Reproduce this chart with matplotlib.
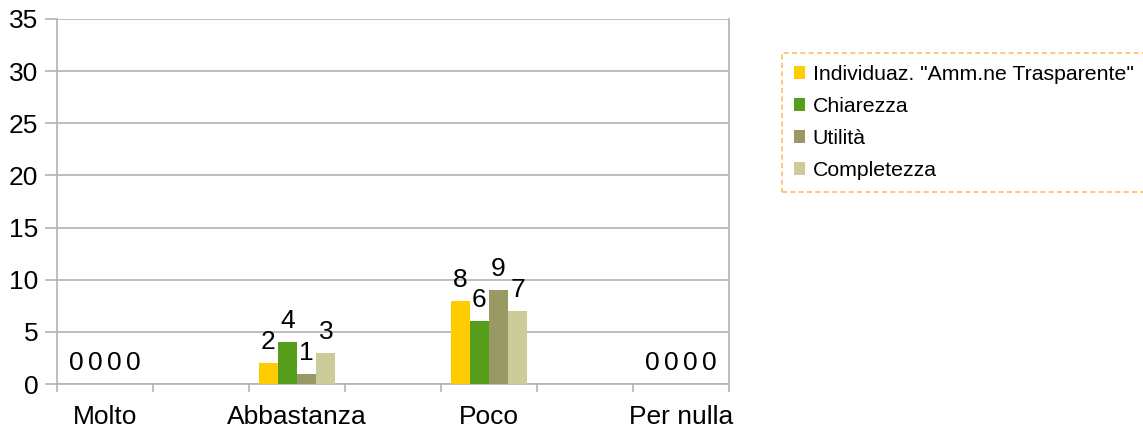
import numpy as np
import matplotlib.pyplot as plt
from matplotlib.patches import Patch

plt.rcParams['font.family'] = ['Liberation Sans', 'DejaVu Sans']

# data
categories = ['Molto', 'Abbastanza', 'Poco', 'Per nulla']
series_names = ['Individuaz. "Amm.ne Trasparente"', 'Chiarezza', 'Utilità', 'Completezza']
individuaz = [0, 2, 8, 0]
chiarezza = [0, 4, 6, 0]
utilita = [0, 1, 9, 0]
completezza = [0, 3, 7, 0]
colors = ['#ffcc00', '#579d1c', '#999966', '#cccc99']

grid_col = '#b3b3b3'

fig = plt.figure(figsize=(11.43, 4.33), dpi=100)
ax = fig.add_axes([57 / 1143, 1 - 384 / 433, (729 - 57) / 1143, (384 - 19) / 433])

# categories sit on every other slot of a 7-slot axis, as in the original
x = np.arange(len(categories)) * 2
width = 0.2
all_series = [individuaz, chiarezza, utilita, completezza]
for i, (vals, col) in enumerate(zip(all_series, colors)):
    pos = x + (i - 1.5) * width
    bars = ax.bar(pos, vals, width, color=col, zorder=3)
    ax.bar_label(bars, padding=6.5, fontsize=19, color='#000000')

ax.set_xlim(-0.5, 6.5)
ax.set_ylim(0, 35)
ax.set_yticks(np.arange(0, 36, 5))
ax.set_xticks(x)
ax.set_xticklabels(categories)
ax.set_xticks(np.arange(-0.5, 7, 1), minor=True)

ax.tick_params(axis='x', which='major', length=0, pad=15, labelsize=19)
ax.tick_params(axis='x', which='minor', length=6, width=1.2, color=grid_col)
ax.tick_params(axis='y', length=8.5, width=1.2, color=grid_col, pad=5, labelsize=19)

ax.grid(axis='y', color=grid_col, linewidth=1.2, zorder=0)
for side in ['left', 'right', 'bottom']:
    ax.spines[side].set_color(grid_col)
    ax.spines[side].set_linewidth(1.2)
ax.spines['top'].set_visible(False)

handles = [Patch(facecolor=c, edgecolor='none') for c in colors]
leg = fig.legend(handles, series_names, loc='upper left',
                 bbox_to_anchor=(782 / 1143, 1 - 53 / 433),
                 fontsize=15.3, frameon=True, fancybox=False,
                 handlelength=0.55, handleheight=0.55, handletextpad=0.35,
                 labelspacing=0.62, borderpad=0.55, borderaxespad=0)
frame = leg.get_frame()
frame.set_edgecolor('#ffad33')
frame.set_linestyle((0, (3, 2)))
frame.set_linewidth(1.2)

fig.savefig('out.png', dpi=100)
